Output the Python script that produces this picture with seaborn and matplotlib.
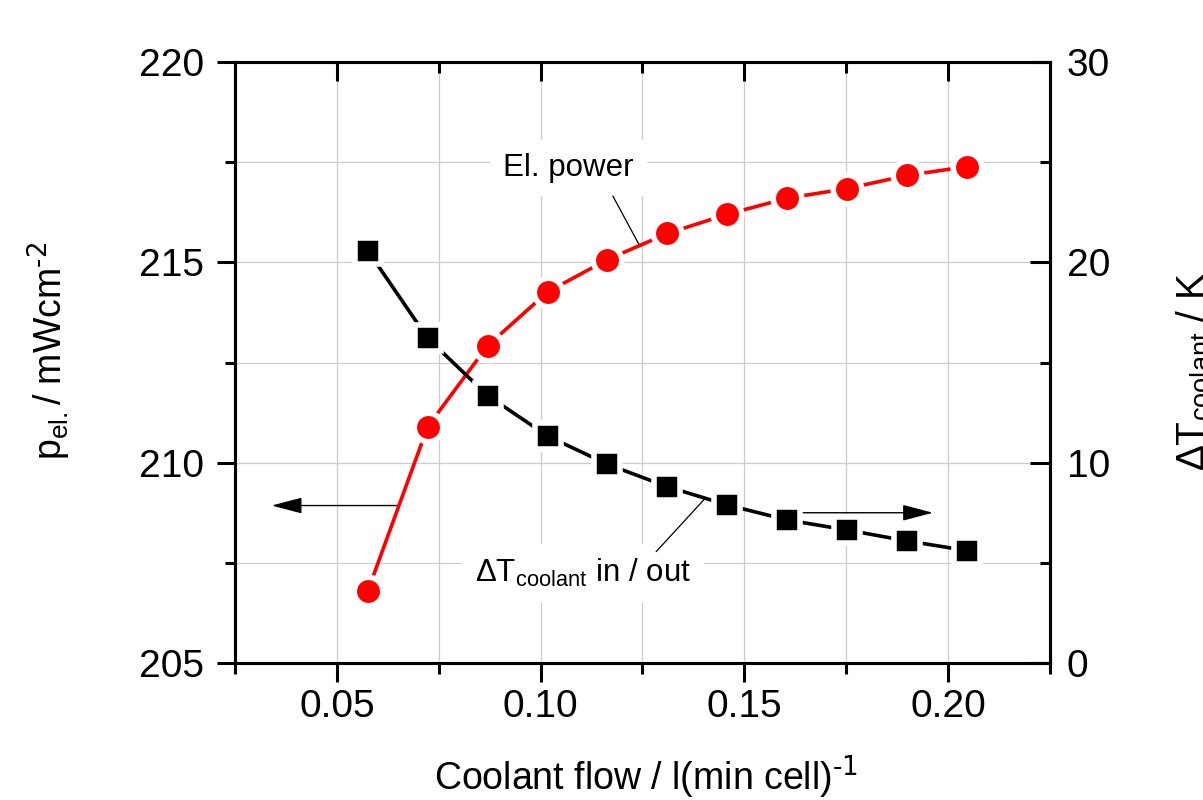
import matplotlib
matplotlib.use("Agg")
import matplotlib.pyplot as plt
from matplotlib.lines import TICKDOWN
from matplotlib.ticker import MultipleLocator, FixedLocator
import seaborn as sns
import pandas as pd

# ---- data ----
coolant_flow = [0.0576, 0.0723, 0.0870, 0.1017, 0.1164, 0.1311,
                0.1458, 0.1605, 0.1752, 0.1900, 0.2047]
el_power = [206.80, 210.90, 212.92, 214.26, 215.07, 215.72,
            216.20, 216.60, 216.84, 217.17, 217.39]
delta_t = [20.58, 16.21, 13.35, 11.33, 9.92, 8.80,
           7.89, 7.14, 6.64, 6.09, 5.61]

x_ticks = [0.05, 0.10, 0.15, 0.20]
x_tick_labels = ["0.05", "0.10", "0.15", "0.20"]
left_ticks = [205, 210, 215, 220]
right_ticks = [0, 10, 20, 30]

df = pd.DataFrame({"flow": coolant_flow, "power": el_power, "dT": delta_t})

# ---- style ----
sns.set_style("white")
plt.rcParams["font.family"] = ["Liberation Sans", "DejaVu Sans"]
plt.rcParams["mathtext.default"] = "regular"
plt.rcParams["axes.unicode_minus"] = False
for k in ("text.color", "axes.labelcolor", "xtick.color", "ytick.color",
          "axes.edgecolor"):
    plt.rcParams[k] = "black"

TICK_FS = 28
LABEL_FS = 27
ANN_FS = 22.5
SPINE_W = 2.2
XMIN, XMAX = 0.025, 0.225

fig = plt.figure(figsize=(12.03, 8), dpi=100)
ax = fig.add_axes([0.19534, 0.17125, 0.67747, 0.75125])
ax2 = ax.twinx()

# grid on the left axes
ax.set_axisbelow(True)
ax.set_xlim(XMIN, XMAX)
ax.set_ylim(205, 220)
ax.xaxis.set_major_locator(FixedLocator(x_ticks))
ax.set_xticklabels(x_tick_labels)
ax.xaxis.set_minor_locator(MultipleLocator(0.025))
ax.yaxis.set_major_locator(FixedLocator(left_ticks))
ax.yaxis.set_minor_locator(MultipleLocator(2.5))
ax.grid(True, which="both", axis="both", color="#cccccc", lw=0.9)

ax2.set_ylim(0, 30)
ax2.yaxis.set_major_locator(FixedLocator(right_ticks))
ax2.yaxis.set_minor_locator(MultipleLocator(5))

# ---- data lines ----
sns.lineplot(data=df, x="flow", y="power", ax=ax, color="#ff0000", lw=2.6,
             marker="o", markersize=20.5, markerfacecolor="#ff0000",
             markeredgecolor="white", markeredgewidth=4, zorder=4)
sns.lineplot(data=df, x="flow", y="dT", ax=ax2, color="black", lw=2.6,
             marker="s", markersize=18.6, markerfacecolor="black",
             markeredgecolor="white", markeredgewidth=4, zorder=4)
ax2.set_xlabel("")
ax2.set_ylabel("")

# ---- ticks ----
ax.tick_params(axis="x", which="both", direction="out", bottom=True, top=False,
               labelsize=TICK_FS, pad=5, width=SPINE_W, color="black")
ax.tick_params(axis="x", which="major", length=14)
ax.tick_params(axis="x", which="minor", length=8)
ax.tick_params(axis="y", which="both", direction="out", left=True, right=False,
               labelsize=TICK_FS, pad=9, width=SPINE_W)
ax.tick_params(axis="y", which="major", length=13)
ax.tick_params(axis="y", which="minor", length=7.5)

ax2.tick_params(axis="y", which="both", direction="in", right=True, left=False,
                labelsize=TICK_FS, pad=12, width=SPINE_W)
ax2.tick_params(axis="y", which="major", length=14.5)
ax2.tick_params(axis="y", which="minor", length=7.5)

# inward-pointing tick marks along the top frame (drawn on the top-most axes)
major_locs = [v for v in ax.xaxis.get_majorticklocs() if XMIN <= v <= XMAX]
minor_locs = [v for v in ax.xaxis.get_minorticklocs()
              if XMIN + 1e-9 < v < XMAX - 1e-9]
top_tr = ax2.get_xaxis_transform()
ax2.plot(major_locs, [1.0] * len(major_locs), transform=top_tr, ls="none",
         marker=TICKDOWN, ms=14, mew=SPINE_W, color="black", clip_on=False,
         zorder=10)
ax2.plot(minor_locs, [1.0] * len(minor_locs), transform=top_tr, ls="none",
         marker=TICKDOWN, ms=8, mew=SPINE_W, color="black", clip_on=False,
         zorder=10)
ax.set_xlim(XMIN, XMAX)
ax2.set_ylim(0, 30)

for a in (ax, ax2):
    for s in a.spines.values():
        s.set_linewidth(SPINE_W)
        s.set_color("black")
        s.set_visible(True)

# ---- labels ----
ax.set_xlabel(r"Coolant flow / l(min cell)$^{\text{-1}}$", fontsize=LABEL_FS)
ax.xaxis.set_label_coords(0.504, -0.211)
ax.xaxis.label.set_va("baseline")

ax.set_ylabel(r"p$_{el.}$/ mWcm$^{\text{-2}}$", fontsize=LABEL_FS)
ax.yaxis.set_label_coords(-0.199, 0.52)

fig.text(1175 / 1203, 1 - 372 / 800, r"ΔT$_{coolant}$ / K", fontsize=28,
         rotation=90, rotation_mode="anchor", ha="center", va="top")

# ---- annotations ----
box = dict(boxstyle="square,pad=0.42", fc="white", ec="none")
ax.text(0.10686, 217.16, "El. power", fontsize=ANN_FS, ha="center",
        va="baseline", bbox=box, zorder=3)
ax.annotate("", xy=(0.12444, 215.39), xytext=(0.11772, 216.656),
            arrowprops=dict(arrowstyle="-", lw=0.9, color="black",
                            shrinkA=0, shrinkB=0), zorder=3)

ax.text(0.11037, 207.03, r"ΔT$_{coolant}$ in / out", fontsize=ANN_FS,
        ha="center", va="baseline", bbox=box, zorder=3)
ax.annotate("", xy=(0.1402, 209.09), xytext=(0.12836, 207.78),
            arrowprops=dict(arrowstyle="-", lw=0.9, color="black",
                            shrinkA=0, shrinkB=0), zorder=3)

arrow = dict(arrowstyle="-|>,head_length=0.95,head_width=0.25",
             mutation_scale=20, lw=1.0, color="black", shrinkA=0, shrinkB=0)
ax.annotate("", xy=(0.0340, 208.93), xytext=(0.0652, 208.93),
            arrowprops=arrow, zorder=3)
ax.annotate("", xy=(0.19628, 208.75), xytext=(0.16301, 208.75),
            arrowprops=arrow, zorder=3)

fig.savefig("out.png", dpi=100)
